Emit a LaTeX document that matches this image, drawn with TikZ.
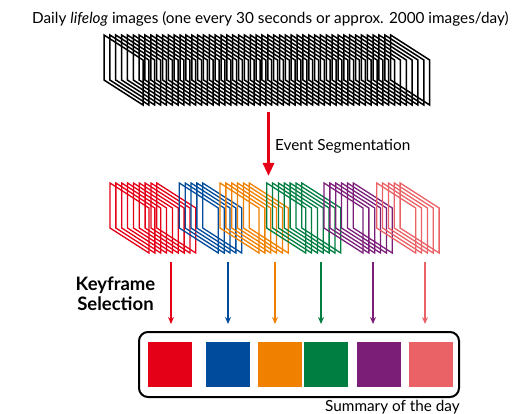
\documentclass[tikz,border=0pt]{standalone}
\usepackage{fontspec}
\setmainfont{Lato}
\usetikzlibrary{arrows.meta}
\definecolor{cred}{RGB}{228,0,22}
\definecolor{cblue}{RGB}{0,75,155}
\definecolor{corange}{RGB}{240,128,0}
\definecolor{cgreen}{RGB}{0,125,64}
\definecolor{cpurple}{RGB}{122,30,120}
\definecolor{cpink}{RGB}{235,98,102}
\newcommand\framestack[5]{%
  \foreach \i in {1,...,#4}{%
    \draw[#1,line width=#5] ({#2+(\i-1)*5.85},#3) -- ++(39,25) -- ++(0,45) -- ++(-39,-25) -- cycle;
  }%
}
\begin{document}
\begin{tikzpicture}[x=1pt,y=-1pt,
  txt/.style={inner sep=0pt,font=\fontsize{15.3}{18}\selectfont},
  pick/.style={line width=1.3pt,-{Stealth[length=7pt,width=6pt]}},
  thumb/.style={minimum width=44pt,minimum height=45pt,inner sep=0pt}]
\useasboundingbox (0,0) rectangle (516,414);
% title
\node[txt,anchor=base west] (title) at (32,24) {Daily \textit{lifelog} images (one every 30 seconds or approx. 2000 images/day)};
% black stack
\framestack{black}{104}{35}{50}{1.5pt}
% segmentation arrow
\coordinate (segstart) at (268.5,112);
\coordinate (segend) at (268.5,176);
\draw[cred,line width=3pt,-{Triangle[length=13pt,width=11pt]}] (segstart) -- (segend);
\node[txt,anchor=base west] (seglabel) at (275,150) {Event Segmentation};
% coloured stacks
\framestack{cred}{110}{183}{9}{1.3pt}
\framestack{cblue}{179.3}{183}{5}{1.3pt}
\framestack{corange}{220}{183}{6}{1.3pt}
\framestack{cgreen}{266.7}{183}{7}{1.3pt}
\framestack{cpurple}{324}{183}{6}{1.3pt}
\framestack{cpink}{376.7}{183}{5}{1.3pt}
% keyframe label
\node[inner sep=0pt,font=\fontsize{18.5}{20.5}\selectfont\bfseries,align=center] (keylabel) at (115.5,294) {Keyframe\\Selection};
% arrows
\foreach \n/\x/\c in {a/171/cred,b/228/cblue,c/275/corange,d/321/cgreen,e/373/cpurple,f/425/cpink}{
  \coordinate (\n s) at (\x,262);
  \coordinate (\n e) at (\x,324);
  \draw[pick,\c] (\n s) -- (\n e);
}
% summary box
\node[draw,line width=2pt,rounded corners=9pt,minimum width=320pt,minimum height=65pt,inner sep=0pt] (summary) at (299,364.5) {};
\node[thumb,fill=cred] (k1) at (170,364.5) {};
\node[thumb,fill=cblue] (k2) at (228,364.5) {};
\node[thumb,fill=corange] (k3) at (280,364.5) {};
\node[thumb,fill=cgreen] (k4) at (326,364.5) {};
\node[thumb,fill=cpurple] (k5) at (378.5,364.5) {};
\node[thumb,fill=cpink] (k6) at (430.5,364.5) {};
\node[txt,anchor=base west] (sumlabel) at (325,411) {Summary of the day};
\end{tikzpicture}
\end{document}
